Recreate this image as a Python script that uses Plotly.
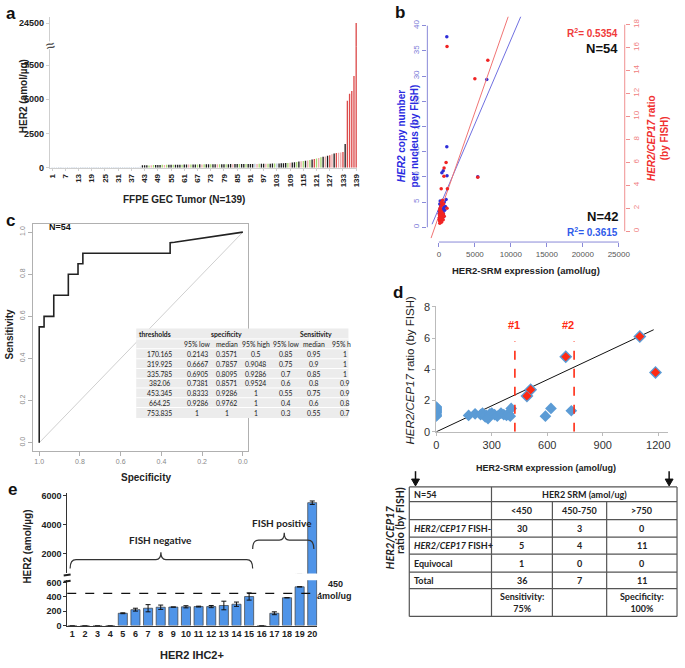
import plotly.graph_objects as go

W, H = 685, 668
BASE = "Liberation Sans, Arial, sans-serif"
CAL = "Lato, Liberation Sans, sans-serif"


def fx(p):
    return p / W


def fy(p):
    return 1 - p / H


def dx(a, b):
    return [a / W, b / W]


def dy(top, bottom):
    return [1 - bottom / H, 1 - top / H]


# ---------------- DATA ----------------
# Panel a : HER2 by tumour (139 tumours)
a_tumor = list(range(1, 140))
a_her2 = [40, 45, 42, 48, 50, 44, 46, 52, 47, 49, 51, 53, 45, 50, 48, 55, 52, 49, 54, 51,
          56, 50, 53, 55, 58, 52, 57, 54, 60, 56, 58, 61, 59, 62, 57, 60, 63, 61, 64, 62, 66,
          180, 190, 185, 175, 190, 195, 200,
          205, 210, 215, 210, 220, 215, 225, 220, 225, 230, 225, 230,
          235, 240, 238, 242, 245, 240, 248, 250, 245, 252, 250, 255, 250, 258, 255, 260, 258,
          262, 260, 265, 262, 268, 265, 270, 268, 272, 270, 275, 272, 278,
          280, 282, 285, 283, 288, 290, 292, 295, 298, 300, 305, 310, 315, 320, 325,
          330, 340, 350, 360, 380, 400, 430,
          460, 480, 500, 520, 540, 560, 600, 640, 680, 720,
          760, 800, 830, 870, 920, 980, 1040, 1080, 1100, 1120, 1150,
          1740,
          4900, 5400, 5600, 6700, 24500]
a_group = list("b" * 41 + "kkkgpgk" + "kkgpgkkgkkkg" + "kkpgkkgkpgkkgkkpgkkgkkpkkgkkgk"
               + "kkbpgkkpgkkgbkk" + "kkgpkkg" + "kpgkpgkrgp" + "gkpkrpkrppr" + "k" + "rrrrr")
a_palette = {"b": "#bccbdd", "k": "#1c1c1c", "g": "#a6d86e", "p": "#eeaaaa", "r": "#dc4b4b"}
a_xticks = list(range(1, 140, 6))
a_yticks_low = [0, 2500, 5000, 7500]
a_yticks_up = [24500]

# Panel b : FISH vs SRM
b_blue_x = [1100, 1100, 6650, 5400, 410, 1130, 600,
            100, 150, 200, 250, 300, 350, 400, 120, 180, 220, 260, 320, 380, 450, 500, 550,
            600, 650, 700, 80, 140, 240, 280, 340, 420, 480, 520, 620, 750, 900, 60, 200,
            300, 800, 1000]
b_blue_y = [37.8, 16.0, 29.3, 10.0, 10.8, 10.2, 11.2,
            2.0, 2.4, 3.1, 2.6, 3.5, 2.2, 4.0, 4.6, 5.2, 1.8, 3.0, 4.4, 2.9, 3.3, 2.5, 4.8,
            3.7, 2.1, 3.9, 3.2, 1.6, 4.2, 2.3, 3.8, 1.9, 4.5, 3.0, 2.7, 5.0, 4.1, 2.8, 2.0,
            1.5, 3.4, 5.5]
b_red_x = [1130, 5000, 6800, 5400, 1000, 720, 320, 1180, 1130, 700,
           50, 80, 100, 120, 150, 170, 200, 220, 240, 260, 280, 300, 320, 340, 360, 380,
           400, 420, 440, 460, 480, 500, 60, 90, 130, 160, 190, 210, 250, 270, 290, 310,
           330, 350, 370, 390, 410, 430, 600, 630, 740, 650, 110, 230]
b_red_y = [16.1, 13.3, 14.9, 4.7, 6.0, 5.5, 3.7, 3.7, 2.0, 4.8,
           1.0, 1.2, 0.9, 1.4, 1.1, 1.6, 1.0, 1.3, 0.8, 1.2, 1.5, 1.0, 1.1, 0.9, 1.3, 1.7,
           1.1, 1.0, 1.4, 2.3, 1.2, 2.7, 1.5, 1.8, 0.7, 2.0, 1.2, 1.9, 1.0, 2.2, 0.9, 1.3,
           2.5, 1.0, 1.2, 0.8, 1.6, 1.1, 1.0, 1.5, 1.3, 2.4, 1.1, 1.4]
b_fit_blue_x = [-950, 11800]
b_fit_blue_y = [0.6, 43.2]
b_fit_red_x = [-1090, 9800]
b_fit_red_y = [-0.6, 19.0]
b_xticks = [0, 5000, 10000, 15000, 20000, 25000]
b_yticks_left = [0, 5, 10, 15, 20, 25, 30, 35, 40]
b_yticks_right = [0, 2, 4, 6, 8, 10, 12, 14, 16, 18]

# Panel c : ROC curve
c_spec = [1.0, 1.0, 0.9762, 0.9762, 0.9286, 0.9286, 0.8571, 0.8571, 0.8095, 0.8095,
          0.7857, 0.7857, 0.3571, 0.3571, 0.336, 0.0]
c_sens = [0.0, 0.55, 0.55, 0.6, 0.6, 0.7, 0.7, 0.8, 0.8, 0.85, 0.85, 0.9, 0.9, 0.95, 0.952, 1.0]
c_ticks = [1.0, 0.8, 0.6, 0.4, 0.2, 0.0]
c_tab_thr = ["170.165", "319.925", "335.785", "382.06", "453.345", "664.25", "753.835"]
c_tab_sp_low = ["0.2143", "0.6667", "0.6905", "0.7381", "0.8333", "0.9286", "1"]
c_tab_sp_med = ["0.3571", "0.7857", "0.8095", "0.8571", "0.9286", "0.9762", "1"]
c_tab_sp_high = ["0.5", "0.9048", "0.9286", "0.9524", "1", "1", "1"]
c_tab_se_low = ["0.85", "0.75", "0.7", "0.6", "0.55", "0.4", "0.3"]
c_tab_se_med = ["0.95", "0.9", "0.85", "0.8", "0.75", "0.6", "0.55"]
c_tab_se_high = ["1", "1", "1", "0.9", "0.9", "0.8", "0.7"]   # cut at the panel edge

# Panel d : ratio vs SRM
d_neg_x = [0, 0, 0, 0, 0, 0, 0, 0, 0, 0, 0, 0,
           175, 210, 240, 250, 265, 270, 280, 290, 300, 315, 330, 350, 365, 380, 390, 400,
           405, 590, 620, 730]
d_neg_y = [1.0, 1.1, 1.2, 1.3, 1.4, 1.5, 1.6, 1.05, 1.25, 1.35, 1.45, 1.55,
           1.05, 1.15, 1.1, 1.2, 0.95, 1.05, 0.85, 1.15, 1.2, 1.1, 1.0, 1.2, 1.1, 1.05, 1.15,
           1.0, 1.5, 1.0, 1.5, 1.35]
d_pos_x = [490, 510, 700, 1100, 1185]
d_pos_y = [2.3, 2.7, 4.8, 6.1, 3.8]
d_fit_x = [0, 1175]
d_fit_y = [0, 6.53]
d_cuts = [425, 745]
d_cut_top = 5.8
d_xticks = [0, 300, 600, 900, 1200]
d_yticks = [0, 2, 4, 6, 8]
d_cols = ["<450", "450-750", ">750"]
d_rows = ["<i>HER2/CEP17</i> FISH-", "<i>HER2/CEP17</i> FISH+", "Equivocal", "Total"]
d_counts = [[30, 3, 0], [5, 4, 11], [1, 0, 0], [36, 7, 11]]

# Panel e : IHC2+ cases
e_case = list(range(1, 21))
e_her2 = [0, 0, 0, 0, 172, 222, 242, 256, 258, 262, 265, 265, 280, 298, 405, 0, 172, 388, 540, 5520]
e_err = [0, 0, 0, 0, 6, 20, 50, 30, 0, 15, 6, 15, 60, 30, 50, 0, 20, 0, 0, 120]
e_cutoff = 450
e_yticks_low = [0, 200, 400, 600]
e_yticks_up = [2000, 4000, 6000]

# ---------------- FIGURE ----------------
fig = go.Figure()

# Panel a bars on both segments of the broken axis
a_cols = [a_palette[g] for g in a_group]
for ya in ["y", "y2"]:
    fig.add_trace(go.Bar(x=a_tumor, y=a_her2, width=0.6, marker=dict(color=a_cols, line=dict(width=0)),
                         xaxis="x", yaxis=ya))

# Panel b
fig.add_trace(go.Scatter(x=b_fit_blue_x, y=b_fit_blue_y, mode="lines", line=dict(color="#7070e0", width=1),
                         xaxis="x3", yaxis="y3"))
fig.add_trace(go.Scatter(x=b_fit_red_x, y=b_fit_red_y, mode="lines", line=dict(color="#f07474", width=1),
                         xaxis="x3", yaxis="y4"))
fig.add_trace(go.Scatter(x=b_blue_x, y=b_blue_y, mode="markers", marker=dict(color="#2e2ed8", size=3.5),
                         xaxis="x3", yaxis="y3"))
fig.add_trace(go.Scatter(x=b_red_x, y=b_red_y, mode="markers", marker=dict(color="#f02424", size=3.5),
                         xaxis="x3", yaxis="y4"))

# Panel c
fig.add_trace(go.Scatter(x=[1, 0], y=[0, 1], mode="lines", line=dict(color="#cfcfcf", width=1),
                         xaxis="x5", yaxis="y5"))
fig.add_trace(go.Scatter(x=c_spec, y=c_sens, mode="lines", line=dict(color="#222222", width=1.6),
                         xaxis="x5", yaxis="y5"))

# Panel d
fig.add_trace(go.Scatter(x=d_fit_x, y=d_fit_y, mode="lines", line=dict(color="#111111", width=1),
                         xaxis="x6", yaxis="y6"))
fig.add_trace(go.Scatter(x=d_neg_x, y=d_neg_y, mode="markers",
                         marker=dict(symbol="diamond", color="#5b9bd5", size=9, line=dict(width=0)),
                         xaxis="x6", yaxis="y6"))
fig.add_trace(go.Scatter(x=d_pos_x, y=d_pos_y, mode="markers",
                         marker=dict(symbol="diamond", color="#5b9bd5", size=10, line=dict(width=0)),
                         xaxis="x6", yaxis="y6"))
fig.add_trace(go.Scatter(x=d_pos_x, y=d_pos_y, mode="markers",
                         marker=dict(symbol="diamond", color="#ff2a12", size=7, line=dict(width=0)),
                         xaxis="x6", yaxis="y6"))

# Panel e bars on both segments
for ya in ["y7", "y8"]:
    fig.add_trace(go.Bar(x=e_case, y=e_her2, width=0.72,
                         marker=dict(color="#4f94e8", line=dict(color="#3c3c3c", width=0.7)),
                         error_y=dict(type="data", array=e_err, color="#111", thickness=1, width=2.5),
                         xaxis="x7", yaxis=ya))

# ---------------- AXES ----------------
noax = dict(showgrid=False, zeroline=False)
lay = dict(
    xaxis=dict(domain=dx(47.5, 359), range=[0, 139.5], anchor="y", tickvals=a_xticks,
               ticktext=[str(v) for v in a_xticks], tickangle=-90,
               tickfont=dict(size=8, color="#222", family=BASE, weight="bold"),
               showline=True, linecolor="#cfcfcf", ticks="outside", ticklen=2, tickcolor="#cfcfcf", **noax),
    yaxis=dict(domain=dy(42, 165.5), range=[0, 8866], anchor="x", tickvals=a_yticks_low,
               ticktext=[str(v) for v in a_yticks_low],
               tickfont=dict(size=9, color="#222", family=BASE, weight="bold"),
               showline=True, linecolor="#cfcfcf", ticks="outside", ticklen=3, tickcolor="#cfcfcf", **noax),
    yaxis2=dict(domain=dy(12, 42), range=[8866, 28656], anchor="x", tickvals=a_yticks_up,
                ticktext=[str(v) for v in a_yticks_up],
                tickfont=dict(size=9, color="#222", family=BASE, weight="bold"),
                showline=True, linecolor="#cfcfcf", ticks="outside", ticklen=3, tickcolor="#cfcfcf", **noax),
    xaxis3=dict(domain=dx(430, 630), range=[-1605, 25830], anchor="y3", tickvals=b_xticks,
                ticktext=[str(v) for v in b_xticks],
                tickfont=dict(size=8, color="#555", family=BASE), showline=False,
                ticks="outside", ticklen=4, tickcolor="#8a8ad8", **noax),
    yaxis3=dict(domain=dy(12, 241), range=[-2.93, 41.76], anchor="x3", tickvals=b_yticks_left,
                tickangle=-90, tickfont=dict(size=8, color="#7b7bd8", family=BASE), showline=False,
                ticks="outside", ticklen=4, tickcolor="#8a8ad8", **noax),
    yaxis4=dict(overlaying="y3", side="right", anchor="x3", range=[-0.943, 18.69], tickvals=b_yticks_right,
                tickangle=-90, tickfont=dict(size=8, color="#f08080", family=BASE), showline=False,
                ticks="outside", ticklen=4, tickcolor="#f09090", **noax),
    xaxis5=dict(domain=dx(30, 248), range=[1.0325, -0.024], anchor="y5", tickvals=c_ticks,
                ticktext=["%.1f" % v for v in c_ticks], tickfont=dict(size=7, color="#888", family=BASE),
                showline=True, mirror=True, linecolor="#b0b0b0", ticks="outside", ticklen=4,
                tickcolor="#b0b0b0", **noax),
    yaxis5=dict(domain=dy(223, 453), range=[-0.037, 1.037], anchor="x5", tickvals=c_ticks,
                ticktext=["%.1f" % v for v in c_ticks], tickangle=-90,
                tickfont=dict(size=7, color="#888", family=BASE),
                showline=True, mirror=True, linecolor="#b0b0b0", ticks="outside", ticklen=4,
                tickcolor="#b0b0b0", **noax),
    xaxis6=dict(domain=dx(439, 673.4), range=[0, 1250], anchor="y6", tickvals=d_xticks,
                tickfont=dict(size=11, color="#333", family=BASE), showline=True, linecolor="#bbbbbb",
                ticks="outside", ticklen=3, tickcolor="#bbbbbb", **noax),
    yaxis6=dict(domain=dy(306, 434), range=[0, 8.05], anchor="x6", tickvals=d_yticks,
                tickfont=dict(size=11, color="#333", family=BASE), showline=True, linecolor="#bbbbbb",
                ticks="outside", ticklen=3, tickcolor="#bbbbbb", **noax),
    xaxis7=dict(domain=dx(65.1, 318.5), range=[0.6, 20.4], anchor="y7", tickvals=e_case,
                tickangle=0, tickfont=dict(size=9, color="#222", family=BASE, weight="bold"),
                showline=True, linecolor="#333", ticks="", **noax),
    yaxis7=dict(domain=dy(585, 631), range=[0, 630], anchor="x7", tickvals=e_yticks_low,
                tickfont=dict(size=9, color="#222", family=BASE, weight="bold"),
                showline=True, linecolor="#333", ticks="outside", ticklen=3, tickcolor="#333", **noax),
    yaxis8=dict(domain=dy(496, 578), range=[608, 6205], anchor="x7", tickvals=e_yticks_up,
                tickfont=dict(size=9, color="#222", family=BASE, weight="bold"),
                showline=True, linecolor="#333", ticks="outside", ticklen=3, tickcolor="#333", **noax),
)

# ---------------- SHAPES ----------------
shapes = []


def line_px(x0, y0, x1, y1, color="#555", width=1, dash=None, layer="above"):
    d = dict(type="line", xref="paper", yref="paper", x0=fx(x0), y0=fy(y0), x1=fx(x1), y1=fy(y1),
             line=dict(color=color, width=width), layer=layer)
    if dash:
        d["line"]["dash"] = dash
    shapes.append(d)


def P(x, y):
    return "%.5f,%.5f" % (fx(x), fy(y))


# panel a axis-break gap
shapes.append(dict(type="rect", xref="paper", yref="paper", x0=fx(45), x1=fx(51), y0=fy(45), y1=fy(37),
                   fillcolor="white", line=dict(width=0), layer="above"))

# panel b axis lines (R style, spanning tick range)
shapes.append(dict(type="line", xref="x3 domain", yref="y3", x0=0, x1=0, y0=0, y1=40,
                   line=dict(color="#8a8ad8", width=1)))
shapes.append(dict(type="line", xref="x3 domain", yref="y4", x0=1, x1=1, y0=0, y1=18,
                   line=dict(color="#f09090", width=1)))
shapes.append(dict(type="line", xref="x3", yref="y3 domain", x0=0, x1=25000, y0=0, y1=0,
                   line=dict(color="#8a8ad8", width=1)))

# panel c table background
shapes.append(dict(type="rect", xref="paper", yref="paper", x0=fx(135), x1=fx(350), y0=fy(420), y1=fy(329),
                   fillcolor="#ececec", line=dict(width=0), layer="above"))
for yy in [339.5, 349.5, 359.7, 369.6, 379.5, 389.4, 399.3, 409.2]:
    line_px(135, yy, 350, yy, color="#ffffff", width=1)

# panel d cut lines
for cx in d_cuts:
    shapes.append(dict(type="line", xref="x6", yref="y6", x0=cx, x1=cx, y0=0, y1=d_cut_top,
                       line=dict(color="#ff2a12", width=1.6, dash="dash")))

# panel d arrows
for ax_ in [418, 675]:
    line_px(ax_, 474, ax_, 483, color="#111", width=1.5)
    shapes.append(dict(type="path", xref="paper", yref="paper",
                       path="M " + P(ax_ - 4, 482) + " L " + P(ax_ + 4, 482) + " L " + P(ax_, 489) + " Z",
                       fillcolor="#111", line=dict(color="#111", width=1), layer="above"))

# panel d table
rows_y = [490, 505, 523.3, 541, 558.3, 576.7, 593.3, 621.7]
cols_x = [411.7, 495, 556.7, 611.7, 683]
for yy in rows_y:
    line_px(cols_x[0], yy, cols_x[-1], yy, color="#555", width=1.2)
for i, xx in enumerate(cols_x):
    top = rows_y[0] if i in (0, 1, 4) else rows_y[1]
    line_px(xx, top, xx, rows_y[-1], color="#555", width=1.2)

# panel e cut-off line
shapes.append(dict(type="line", xref="x7 domain", yref="y7", x0=0, x1=1.015, y0=e_cutoff, y1=e_cutoff,
                   line=dict(color="#111", width=1.3, dash="dash")))
# panel e axis break marks
line_px(61.5, 580, 68.5, 579, color="#222", width=2)
line_px(61.5, 586.5, 68.5, 585.5, color="#222", width=2)


# braces in panel e
def brace(x0, x1, xm, yb, ym, yt):
    path = ("M " + P(x0, yb) + " Q " + P(x0, ym) + " " + P(x0 + 6, ym) +
            " L " + P(xm - 5, ym) + " Q " + P(xm, ym) + " " + P(xm, yt) +
            " Q " + P(xm, ym) + " " + P(xm + 5, ym) +
            " L " + P(x1 - 6, ym) + " Q " + P(x1, ym) + " " + P(x1, yb))
    shapes.append(dict(type="path", xref="paper", yref="paper", path=path,
                       line=dict(color="#333", width=1.2)))


brace(68, 253, 160, 573, 564, 556.5)
brace(253, 315, 285, 553, 544, 536.5)

# ---------------- TEXT ----------------
anns = []


def T(x, y, text, size=10, color="#222", xa="center", ya="middle", angle=0, family=BASE, bold=False):
    anns.append(dict(x=fx(x), y=fy(y), xref="paper", yref="paper",
                     text=("<b>" + text + "</b>") if bold else text, showarrow=False,
                     xanchor=xa, yanchor=ya, textangle=angle,
                     font=dict(size=size, color=color, family=family)))


# panel labels
T(8, 9, "a", 17, "#111", bold=True)
T(402, 8, "b", 17, "#111", bold=True)
T(8, 219, "c", 17, "#111", bold=True)
T(400, 292, "d", 17, "#111", bold=True)
T(10, 493, "e", 17, "#111", bold=True)

# panel a
T(21, 93, "HER2 (amol/µg)", 10, "#222", angle=-90, bold=True)
T(183, 198, "FFPE GEC Tumor (N=139)", 10, "#222", bold=True)
T(48, 41, "≈", 16, "#444", angle=-15)

# panel b
T(410, 133, "<i>HER2</i> copy number<br>per nucleus (by FISH)", 10, "#2a2ae0", angle=-90, bold=True)
T(663, 135, "<i>HER2/CEP17</i> ratio<br>(by FISH)", 10, "#f03030", angle=-90, bold=True)
T(625, 28, "R<sup>2</sup>= 0.5354", 10, "#f03a3a", xa="right", bold=True)
T(625, 44, "N=54", 13, "#111", xa="right", bold=True)
T(625, 215, "N=42", 13, "#111", xa="right", bold=True)
T(625, 231, "R<sup>2</sup>= 0.3615", 10, "#2f5bea", xa="right", bold=True)
T(530, 270, "HER2-SRM expression (amol/ug)", 9.5, "#222", bold=True)

# panel c
T(58, 226, "N=54", 9, "#111", bold=True)
T(7, 335, "Sensitivity", 10, "#222", angle=-90, bold=True)
T(145, 480, "Specificity", 10, "#222", bold=True)
tf = 6.8
T(136, 335, "thresholds", tf, "#222", xa="left", family=CAL, bold=True)
T(226.7, 335, "specificity", tf, "#222", family=CAL, bold=True)
T(316.7, 335, "Sensitivity", tf, "#222", family=CAL, bold=True)
for cxp, lab in [(196.7, "95% low"), (226.7, "median"), (256.7, "95% high"),
                 (286.7, "95% low"), (315, "median")]:
    T(cxp, 345, lab, tf, "#222", family=CAL)
T(331, 345, "95% h", tf, "#222", xa="left", family=CAL)
for i in range(7):
    yy = 355 + 9.9 * i
    T(158.3, yy, c_tab_thr[i], tf, "#222", family=CAL)
    T(196.7, yy, c_tab_sp_low[i], tf, "#222", family=CAL)
    T(226.7, yy, c_tab_sp_med[i], tf, "#222", family=CAL)
    T(256, yy, c_tab_sp_high[i], tf, "#222", family=CAL)
    T(286.7, yy, c_tab_se_low[i], tf, "#222", family=CAL)
    T(315, yy, c_tab_se_med[i], tf, "#222", family=CAL)
    if c_tab_se_high[i] == "1":
        T(346.5, yy, c_tab_se_high[i], tf, "#222", family=CAL)
    else:
        T(339.5, yy, c_tab_se_high[i], tf, "#222", xa="left", family=CAL)

# panel d
T(412, 372, "<i>HER2/CEP17</i> ratio (by FISH)", 11.5, "#222", angle=-90)
T(550, 471, "HER2-SRM expression (amol/ug)", 9, "#222", bold=True)
T(518, 325, "#1", 11, "#ff2a12", bold=True)
T(573, 325, "#2", 11, "#ff2a12", bold=True)
T(391.5, 541, "<i>HER2/CEP17</i>", 11, "#222", angle=-90, family=CAL, bold=True)
T(403, 524, "ratio (by FISH)", 10.5, "#222", angle=-90, family=CAL, bold=True)
tfs = 9
col_c = [525.8, 584.2, 647.3]
T(414, 497.5, "N=54", tfs, "#222", xa="left", family=CAL, bold=True)
T(589, 497.5, "HER2 SRM (amol/ug)", tfs, "#222", family=CAL, bold=True)
for j, lab in enumerate(d_cols):
    T(col_c[j], 514, lab, tfs, "#222", family=CAL, bold=True)
row_c = [532.2, 549.7, 567.5, 585]
for i, lab in enumerate(d_rows):
    T(414, row_c[i], lab, tfs, "#222", xa="left", family=CAL, bold=True)
    for j in range(3):
        T(col_c[j], row_c[i], str(d_counts[i][j]), tfs, "#222", family=CAL, bold=True)
T(col_c[0], 607.5, "Sensitivity:<br>75%", tfs, "#222", family=CAL, bold=True)
T(col_c[2], 607.5, "Specificity:<br>100%", tfs, "#222", family=CAL, bold=True)

# panel e
T(25, 551, "HER2 (amol/µg)", 10, "#222", angle=-90, bold=True)
T(192, 661, "HER2 IHC2+", 11, "#222", bold=True)
T(160, 544, "FISH negative", 10, "#222", family=CAL, bold=True)
T(283, 527, "FISH positive", 10, "#222", family=CAL, bold=True)
T(337, 589, "450", 9, "#222", bold=True)
T(336, 601, "amol/ug", 9, "#222", bold=True)

fig.update_layout(width=W, height=H, margin=dict(l=0, r=0, t=0, b=0), showlegend=False,
                  paper_bgcolor="white", plot_bgcolor="white", font=dict(family=BASE),
                  shapes=shapes, annotations=anns, **lay)

fig.write_html("out.html", config={"displayModeBar": False, "staticPlot": True},
               post_script="document.body.style.margin='0';document.body.style.padding='0';")
